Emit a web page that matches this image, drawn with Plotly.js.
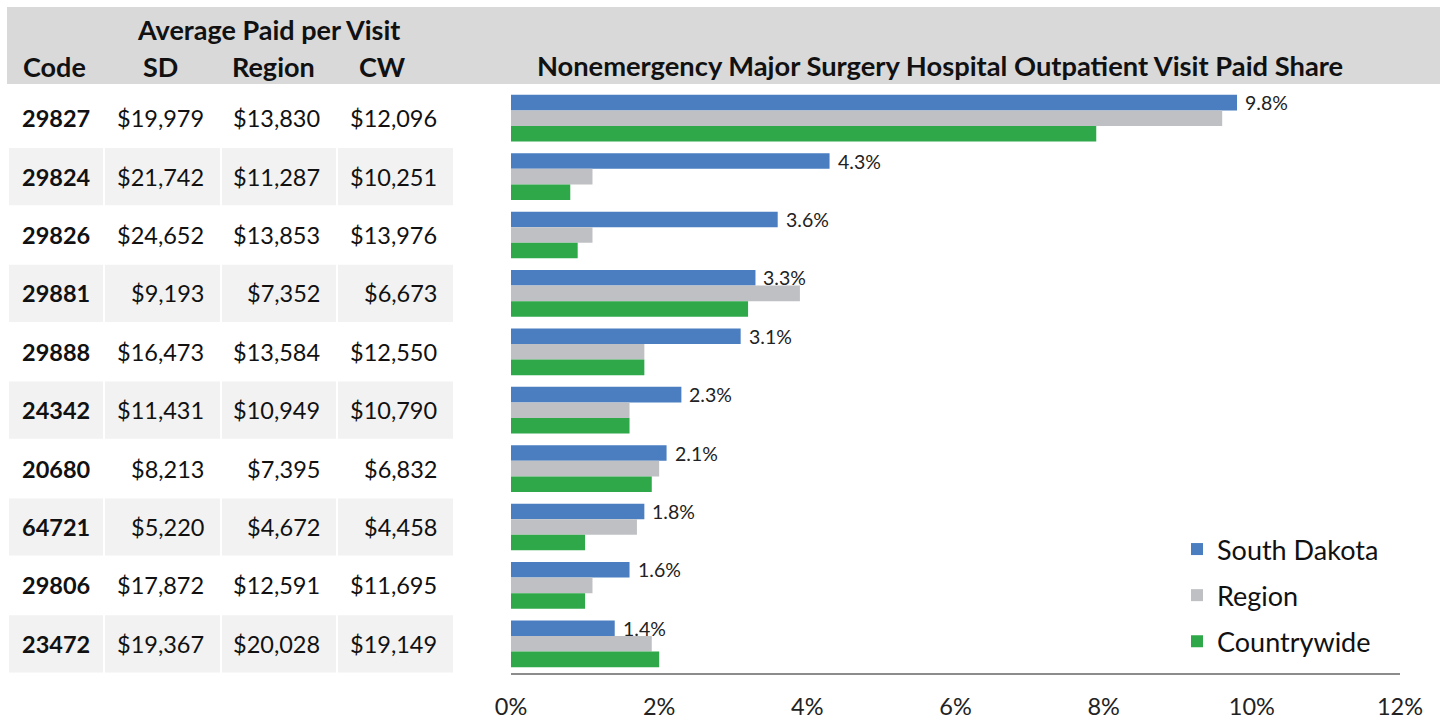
<!DOCTYPE html>
<html>
<head>
<meta charset="utf-8">
<script src="https://cdn.plot.ly/plotly-3.0.1.min.js"></script>
<style>
  body { margin: 0; background: #fff; }
  #plot { width: 1448px; height: 720px; }
</style>
</head>
<body>
<div id="plot"></div>
<script>
// procedure codes (rows, top to bottom)
var codes = ['29827', '29824', '29826', '29881', '29888', '24342', '20680', '64721', '29806', '23472'];

// average paid per visit ($)
var sdPaid = [19979, 21742, 24652, 9193, 16473, 11431, 8213, 5220, 17872, 19367];
var regionPaid = [13830, 11287, 13853, 7352, 13584, 10949, 7395, 4672, 12591, 20028];
var cwPaid = [12096, 10251, 13976, 6673, 12550, 10790, 6832, 4458, 11695, 19149];

// paid share (%)
var sdShare = [9.8, 4.3, 3.6, 3.3, 3.1, 2.3, 2.1, 1.8, 1.6, 1.4];
var regionShare = [9.6, 1.1, 1.1, 3.9, 1.8, 1.6, 2.0, 1.7, 1.1, 1.9];
var cwShare = [7.9, 0.8, 0.9, 3.2, 1.8, 1.6, 1.9, 1.0, 1.0, 2.0];

var seriesNames = ['South Dakota', 'Region', 'Countrywide'];
var tableHeads = ['Code', 'SD', 'Region', 'CW'];
var groupHead = 'Average Paid per Visit';
var chartTitle = 'Nonemergency Major Surgery Hospital Outpatient Visit Paid Share';

var FONT = 'Lato, "Open Sans", sans-serif';

// plot area in pixels
var L = 511, R = 1400, T = 89, B = 673;
function px(x) { return (x - L) / (R - L); }
function py(y) { return (B - y) / (B - T); }
function money(v) { return '$' + v.toLocaleString('en-US'); }

var bars = [
  {x: sdShare, color: '#4a7ec0', name: seriesNames[0]},
  {x: regionShare, color: '#bfc0c4', name: seriesNames[1]},
  {x: cwShare, color: '#2fa84a', name: seriesNames[2]}
];

var data = bars.map(function (b, i) {
  return {
    type: 'bar',
    orientation: 'h',
    y: codes,
    x: b.x,
    name: b.name,
    legendgroup: 'g' + i,
    marker: {color: b.color},
    hoverinfo: 'x+name'
  };
});

var shapes = [{
  type: 'rect', xref: 'paper', yref: 'paper', layer: 'below',
  x0: px(7), x1: px(1440), y0: py(7), y1: py(84),
  fillcolor: '#d9d9d9', line: {width: 0}
}];

// table columns: cell edges
var cols = [[9, 103], [105, 220], [222, 336], [338, 453]];
codes.forEach(function (c, i) {
  if (i % 2 === 1) {
    cols.forEach(function (cc) {
      shapes.push({
        type: 'rect', xref: 'paper', yref: 'y', layer: 'below',
        x0: px(cc[0]), x1: px(cc[1]), y0: i - 0.49, y1: i + 0.49,
        fillcolor: '#f2f2f2', line: {width: 0}
      });
    });
  }
});

var annotations = [];
annotations.push({
  xref: 'paper', yref: 'paper', x: px(268), y: py(30),
  xanchor: 'center', yanchor: 'middle',
  text: '<b>' + groupHead + '</b>', showarrow: false,
  font: {size: 27, family: FONT, color: '#111'}
});
var headX = [54, 160, 273, 382];
tableHeads.forEach(function (h, j) {
  annotations.push({
    xref: 'paper', yref: 'paper', x: px(headX[j]), y: py(66),
    xanchor: 'center', yanchor: 'middle',
    text: '<b>' + h + '</b>', showarrow: false,
    font: {size: 27, family: FONT, color: '#111'}
  });
});

var valRight = [206, 322, 439];
codes.forEach(function (c, i) {
  annotations.push({
    xref: 'paper', yref: 'y', x: px(56), y: i,
    xanchor: 'center', yanchor: 'middle',
    text: '<b>' + c + '</b>', showarrow: false,
    font: {size: 23.5, family: FONT, color: '#111'}
  });
  [sdPaid, regionPaid, cwPaid].forEach(function (arr, j) {
    annotations.push({
      xref: 'paper', yref: 'y', x: px(valRight[j]), y: i,
      xanchor: 'right', yanchor: 'middle',
      text: money(arr[i]), showarrow: false,
      font: {size: 23.5, family: FONT, color: '#111'}
    });
  });
  // value label next to the South Dakota bar
  annotations.push({
    xref: 'x', yref: 'y', x: sdShare[i], y: i - 0.8 / 3,
    xanchor: 'left', yanchor: 'middle', xshift: 6,
    text: sdShare[i].toFixed(1) + '%', showarrow: false,
    font: {size: 19.5, family: FONT, color: '#222'}
  });
});

var layout = {
  width: 1448,
  height: 720,
  margin: {l: L, r: 1448 - R, t: T, b: 720 - B},
  paper_bgcolor: '#fff',
  plot_bgcolor: 'rgba(0,0,0,0)',
  barmode: 'group',
  bargap: 0.2,
  bargroupgap: 0,
  title: {
    text: '<b>' + chartTitle + '</b>',
    x: 940 / 1448, xanchor: 'center',
    y: 1 - 66 / 720, yanchor: 'middle',
    font: {size: 27.3, family: FONT, color: '#111'}
  },
  xaxis: {
    range: [0, 12],
    dtick: 2,
    ticksuffix: '%',
    showgrid: false,
    zeroline: false,
    showline: true,
    linecolor: '#8c8c8c',
    linewidth: 2,
    ticks: '',
    ticklabelstandoff: 12,
    tickfont: {size: 23.5, family: FONT, color: '#222'},
    fixedrange: true
  },
  yaxis: {
    type: 'category',
    range: [9.5, -0.5],
    autorange: false,
    showticklabels: false,
    showgrid: false,
    zeroline: false,
    showline: false,
    fixedrange: true
  },
  legend: {
    x: px(1177), y: py(525), xanchor: 'left', yanchor: 'top',
    traceorder: 'grouped',
    tracegroupgap: 8,
    font: {size: 27, family: FONT, color: '#111'},
    bgcolor: 'rgba(0,0,0,0)'
  },
  showlegend: true,
  shapes: shapes,
  annotations: annotations
};

Plotly.newPlot('plot', data, layout, {displayModeBar: false, staticPlot: true});
</script>
</body>
</html>
